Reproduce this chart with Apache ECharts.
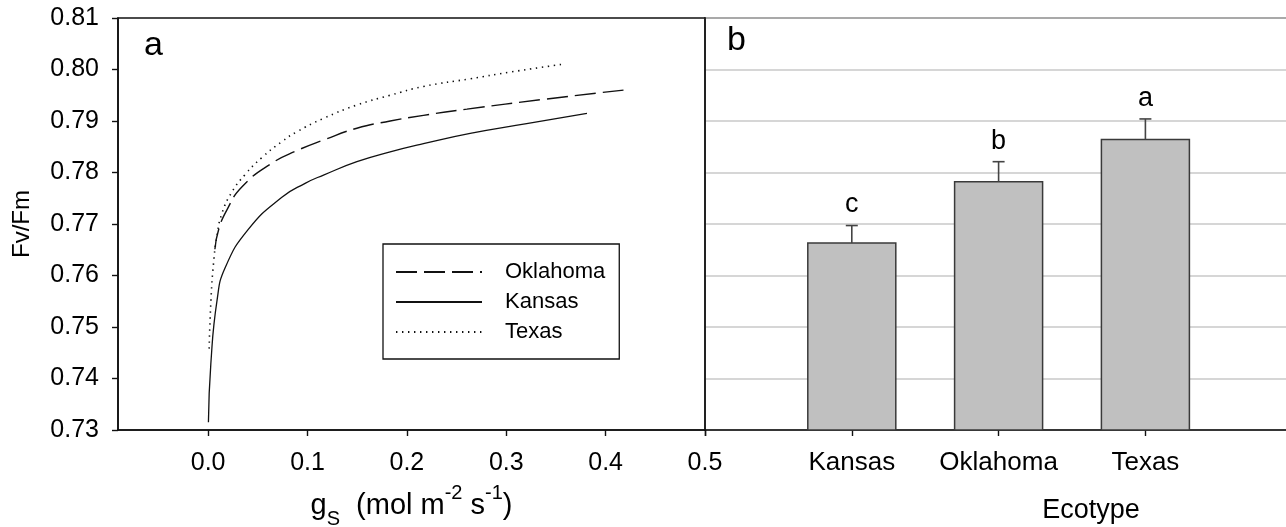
<!DOCTYPE html>
<html>
<head>
<meta charset="utf-8">
<script src="https://cdn.jsdelivr.net/npm/echarts@6/dist/echarts.min.js"></script>
<style>
  html, body { margin: 0; padding: 0; background: #ffffff; }
  #chart { width: 1286px; height: 527px; }
</style>
</head>
<body>
<div id="chart"></div>
<script>
const FONT = '"Liberation Sans", Arial, Helvetica, sans-serif';

// Panel a: fitted Fv/Fm response to stomatal conductance, [gs, Fv/Fm]
const oklahomaCurve = [
  [0.0068, 0.7651], [0.0104, 0.7688], [0.0188, 0.7727], [0.0339, 0.7772],
  [0.0641, 0.7818], [0.0899, 0.7843], [0.1160, 0.7863], [0.1497, 0.7886],
  [0.1832, 0.7900], [0.2167, 0.7911], [0.2604, 0.7923], [0.3375, 0.7942],
  [0.4180, 0.7960]
];
const kansasCurve = [
  [0.0003, 0.7315], [0.0027, 0.7428], [0.0090, 0.7552], [0.0171, 0.7615],
  [0.0406, 0.7690], [0.0742, 0.7752], [0.0976, 0.7779], [0.1161, 0.7795],
  [0.1497, 0.7821], [0.1832, 0.7840], [0.2167, 0.7856], [0.2637, 0.7876],
  [0.3205, 0.7895], [0.3812, 0.7915]
];
const texasCurve = [
  [0.0010, 0.7458], [0.0030, 0.7558], [0.0054, 0.7623], [0.0087, 0.7675],
  [0.0138, 0.7720], [0.0239, 0.7762], [0.0372, 0.7796], [0.0541, 0.7829],
  [0.0742, 0.7860], [0.0893, 0.7879], [0.1160, 0.7905], [0.1497, 0.7931],
  [0.1832, 0.7950], [0.2167, 0.7967], [0.2637, 0.7982], [0.3040, 0.7995],
  [0.3560, 0.8010]
];
const gsTicks = [0, 0.1, 0.2, 0.3, 0.4, 0.5];

// Panel b: mean Fv/Fm per ecotype with standard error and group letters
const ecotypes = ['Kansas', 'Oklahoma', 'Texas'];
const ecotypePos = [1, 2, 3];
const fvfmMean = [0.7663, 0.7782, 0.7864];
const fvfmSE = [0.0034, 0.0039, 0.0040];
const groupLetters = ['c', 'b', 'a'];

const Y_MIN = 0.73, Y_MAX = 0.81;
const CAT_STEP = 146.8;      // pixels between ecotype positions
const RIGHT_WIDTH = 772;     // right plot width (runs past the page edge)

const axisLineStyle = { color: '#111', width: 1.6 };
const tickStyle = { color: '#111', width: 1.4 };

const chart = echarts.init(document.getElementById('chart'), null, { renderer: 'canvas' });

const barData = ecotypePos.map((p, i) => [p, fvfmMean[i], fvfmSE[i], i]);

const option = {
  backgroundColor: '#ffffff',
  animation: false,
  textStyle: { fontFamily: FONT },
  grid: [
    { left: 118, top: 18, width: 587, height: 412, show: true, borderColor: '#111', borderWidth: 1.6,
      backgroundColor: 'transparent', outerBoundsMode: 'none', containLabel: false },
    { left: 705, top: 18, width: RIGHT_WIDTH, height: 412, show: true, borderColor: '#111', borderWidth: 1.6,
      backgroundColor: 'transparent', outerBoundsMode: 'none', containLabel: false }
  ],
  xAxis: [
    {
      type: 'value', gridIndex: 0, min: -0.0907, max: 0.5,
      axisLine: { show: true, onZero: false, lineStyle: axisLineStyle },
      axisTick: { show: true, length: 6, lineStyle: tickStyle, customValues: gsTicks },
      axisLabel: { customValues: gsTicks, formatter: v => v.toFixed(1), fontSize: 25, color: '#000', margin: 21, fontFamily: FONT },
      splitLine: { show: false },
      name: '{m|g}{sub|S}{m|  (mol m}{sup|-2}{m| s}{sup|-1}{m|)}',
      nameLocation: 'middle',
      nameGap: 53,
      nameTextStyle: {
        fontFamily: FONT, color: '#000',
        rich: {
          m: { fontSize: 29, lineHeight: 46, verticalAlign: 'middle', fontFamily: FONT, color: '#000' },
          sup: { fontSize: 20, lineHeight: 20, verticalAlign: 'top', fontFamily: FONT, color: '#000' },
          sub: { fontSize: 20, lineHeight: 28, verticalAlign: 'bottom', fontFamily: FONT, color: '#000' }
        }
      }
    },
    {
      type: 'value', gridIndex: 1, min: 0, max: RIGHT_WIDTH / CAT_STEP,
      axisLine: { show: true, onZero: false, lineStyle: axisLineStyle },
      axisTick: { show: true, length: 6, lineStyle: tickStyle, customValues: [0].concat(ecotypePos) },
      axisLabel: { customValues: ecotypePos, formatter: v => ecotypes[Math.round(v) - 1], fontSize: 26, color: '#000', margin: 20, fontFamily: FONT },
      splitLine: { show: false },
      name: 'Ecotype',
      nameLocation: 'middle',
      nameGap: 67,
      nameTextStyle: { fontSize: 27, color: '#000', fontFamily: FONT }
    }
  ],
  yAxis: [
    {
      type: 'value', gridIndex: 0, min: Y_MIN, max: Y_MAX, interval: 0.01,
      axisLine: { show: true, onZero: false, lineStyle: axisLineStyle },
      axisTick: { show: true, length: 6, lineStyle: tickStyle },
      axisLabel: { formatter: v => v.toFixed(2), fontSize: 25, color: '#000', margin: 19, fontFamily: FONT },
      splitLine: { show: false },
      name: 'Fv/Fm',
      nameLocation: 'middle',
      nameGap: 84,
      nameTextStyle: { fontSize: 24, color: '#000', fontFamily: FONT }
    },
    {
      type: 'value', gridIndex: 1, min: Y_MIN, max: Y_MAX, interval: 0.01,
      axisLine: { show: true, onZero: false, lineStyle: { color: '#222', width: 2 } },
      axisTick: { show: false },
      axisLabel: { show: false },
      splitLine: { show: true, lineStyle: { color: '#c8c8c8', width: 1.5 } }
    }
  ],
  legend: {
    orient: 'vertical',
    left: 383, top: 244,
    padding: [17, 14, 16, 12],
    itemWidth: 86, itemHeight: 14, itemGap: 8,
    borderColor: '#111', borderWidth: 1.3,
    itemStyle: { opacity: 0 },
    textStyle: { fontSize: 22, color: '#000', fontFamily: FONT, padding: [0, 0, 0, 18] },
    data: ['Oklahoma', 'Kansas', 'Texas'],
    selectedMode: false
  },
  graphic: [
    { type: 'text', left: 144, top: 29, style: { text: 'a', font: '34px ' + FONT, fill: '#000' } },
    { type: 'text', left: 727, top: 24, style: { text: 'b', font: '34px ' + FONT, fill: '#000' } }
  ],
  series: [
    {
      name: 'Oklahoma', type: 'line', xAxisIndex: 0, yAxisIndex: 0,
      data: oklahomaCurve, symbol: 'none', smooth: true,
      lineStyle: { color: '#111', width: 1.4, type: [21, 7] }
    },
    {
      name: 'Kansas', type: 'line', xAxisIndex: 0, yAxisIndex: 0,
      data: kansasCurve, symbol: 'none', smooth: true,
      lineStyle: { color: '#111', width: 1.3, type: 'solid' }
    },
    {
      name: 'Texas', type: 'line', xAxisIndex: 0, yAxisIndex: 0,
      data: texasCurve, symbol: 'none', smooth: true,
      lineStyle: { color: '#111', width: 1.6, type: [1.4, 4.6] }
    },
    {
      name: 'Ecotype means', type: 'custom', xAxisIndex: 1, yAxisIndex: 1,
      data: barData,
      renderItem: function (params, api) {
        const x = api.value(0), v = api.value(1), e = api.value(2);
        const idx = api.value(3);
        const base = api.coord([x, Y_MIN]);
        const top = api.coord([x, v]);
        const errTop = api.coord([x, v + e]);
        const halfW = 44, cap = 6;
        return {
          type: 'group',
          children: [
            { type: 'rect', shape: { x: top[0] - halfW, y: top[1], width: halfW * 2, height: base[1] - top[1] },
              style: { fill: '#c0c0c0', stroke: '#3a3a3a', lineWidth: 1.5 } },
            { type: 'line', shape: { x1: top[0], y1: top[1], x2: errTop[0], y2: errTop[1] },
              style: { stroke: '#444', lineWidth: 1.6 } },
            { type: 'line', shape: { x1: errTop[0] - cap, y1: errTop[1], x2: errTop[0] + cap, y2: errTop[1] },
              style: { stroke: '#444', lineWidth: 1.6 } },
            { type: 'text', x: errTop[0], y: errTop[1] - 7,
              style: { text: groupLetters[idx], font: '27px ' + FONT, fill: '#000', align: 'center', verticalAlign: 'bottom' } }
          ]
        };
      },
      z: 3
    }
  ]
};

chart.setOption(option);
</script>
</body>
</html>
